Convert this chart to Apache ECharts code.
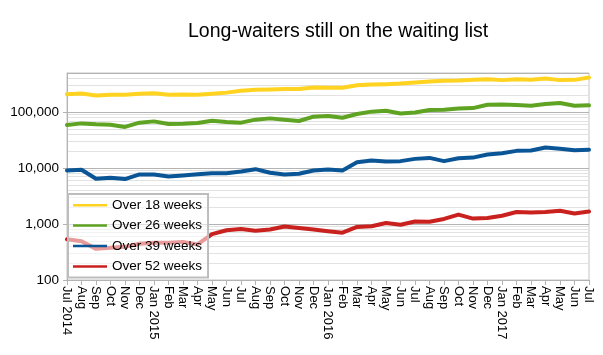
<!DOCTYPE html>
<html>
<head>
<meta charset="utf-8">
<script src="https://cdn.jsdelivr.net/npm/echarts@6/dist/echarts.min.js"></script>
<style>
html,body{margin:0;padding:0;background:#fff;}
#c{width:603px;height:355px;}
</style>
</head>
<body>
<div id="c"></div>
<script>
const months = ['Jul 2014','Aug','Sep','Oct','Nov','Dec','Jan 2015','Feb','Mar','Apr','May','Jun','Jul','Aug','Sep','Oct','Nov','Dec','Jan 2016','Feb','Mar','Apr','May','Jun','Jul','Aug','Sep','Oct','Nov','Dec','Jan 2017','Feb','Mar','Apr','May','Jun','Jul'];
const over18 = [209000,216000,198000,204000,204000,212000,218000,204000,207000,204000,212000,223000,240000,250000,253000,258000,258000,275000,272000,272000,303000,311000,316000,324000,338000,352000,362000,366000,377000,388000,373000,388000,377000,398000,373000,377000,414000];
const over26 = [58900,62900,60400,59700,54300,64800,68300,61400,62200,64000,70300,66700,64800,73300,77300,73300,69500,82800,85200,79500,92500,102000,106000,94800,98800,109000,110000,116000,118000,135000,137000,134000,130000,139000,145000,130000,132000];
const over39 = [9060,9330,6450,6720,6350,7690,7690,7090,7390,7790,8110,8110,8710,9560,8240,7690,7920,9060,9400,9060,12700,13600,13100,13300,14600,15200,13300,15000,15400,17500,18400,20300,20600,23300,22100,20800,21200];
const over52 = [536,494,360,376,391,443,461,461,480,432,659,776,813,760,798,903,853,798,745,700,888,914,1046,972,1112,1099,1233,1476,1253,1279,1410,1641,1602,1635,1725,1538,1669];
const seriesNames = ['Over 18 weeks','Over 26 weeks','Over 39 weeks','Over 52 weeks'];
const majorTicks = [100,1000,10000,100000];
const minorGrid = [200,300,400,500,600,700,800,900,2000,3000,4000,5000,6000,7000,8000,9000,20000,30000,40000,50000,60000,70000,80000,90000,200000,300000,400000];

const colors = ['#ffd320','#5fa323','#0a5596','#c9211e'];
const FONT = 'Liberation Sans, Arial, sans-serif';
const chart = echarts.init(document.getElementById('c'), null, {renderer:'canvas'});

const dataSets = [over18, over26, over39, over52];
const series = dataSets.map((d,i)=>({
  name: seriesNames[i], type:'line', data:d, showSymbol:false, symbol:'none',
  smooth:false, z: 3,
  lineStyle:{color:colors[i], width:4, join:'round', cap:'round'},
  itemStyle:{color:colors[i]}
}));
series.push({
  name:'grid-minor', type:'line', data:[], z:0, silent:true,
  markLine:{silent:true, z:0, symbol:['none','none'], label:{show:false},
    lineStyle:{color:'#e2e2e2', width:1, type:'solid'},
    emphasis:{disabled:true},
    data: minorGrid.map(v=>({yAxis:v}))}
});

chart.setOption({
  animation:false,
  backgroundColor:'#fff',
  color: colors,
  title:{text:'Long-waiters still on the waiting list', left:183, top:17,
    textStyle:{fontFamily:FONT, fontSize:19.5, fontWeight:'normal', color:'#000'}},
  grid:{left:67, right:14, top:73, bottom:75, show:true, borderColor:'#c4c4c4', borderWidth:1},
  legend:{
    orient:'vertical', left:68, top:194, z:10,
    data: seriesNames,
    icon:'rect', itemWidth:34, itemHeight:2.5, itemGap:0,
    padding:[1,6,1,5],
    borderColor:'#bdbdbd', borderWidth:2, backgroundColor:'rgba(255,255,255,0.55)',
    textStyle:{fontFamily:FONT, fontSize:13.5, color:'#000', lineHeight:20.4},
    selectedMode:false
  },
  xAxis:{
    type:'category', data:months, boundaryGap:false,
    axisLine:{lineStyle:{color:'#b3b3b3', width:1}},
    axisTick:{show:true, interval:0, length:5, lineStyle:{color:'#b3b3b3'}},
    axisLabel:{interval:0, rotate:-90, margin:6, color:'#000', fontFamily:FONT, fontSize:13},
    splitLine:{show:false}
  },
  yAxis:{
    type:'log', logBase:10, min:100, max:500000,
    axisLine:{show:true, lineStyle:{color:'#b3b3b3'}},
    axisTick:{show:true, length:4, lineStyle:{color:'#b3b3b3'}},
    axisLabel:{color:'#000', fontFamily:FONT, fontSize:13.5, margin:8, showMaxLabel:false,
      formatter:(v)=> majorTicks.indexOf(Math.round(v))>=0 ? Math.round(v).toLocaleString('en-US') : ''},
    splitLine:{show:true, lineStyle:{color:'#b3b3b3', width:1}},
    minorSplitLine:{show:false}
  },
  series: series
});
</script>
</body>
</html>
